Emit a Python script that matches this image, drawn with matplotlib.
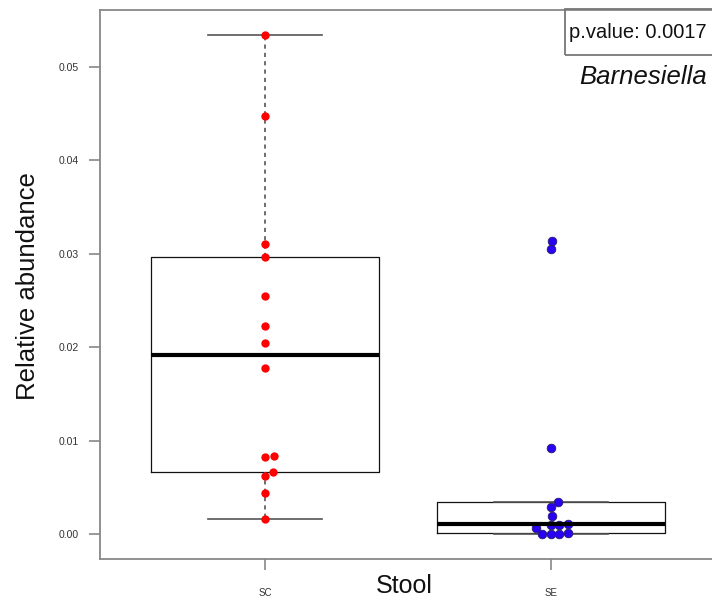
import numpy as np
import matplotlib.pyplot as plt
from matplotlib.patches import Rectangle

plt.rcParams['font.family'] = ['Liberation Sans', 'DejaVu Sans']

groups = ['SC', 'SE']
sc_values = [0.0534, 0.0447, 0.0310, 0.0297, 0.0255, 0.0223, 0.0205,
             0.0178, 0.0084, 0.0082, 0.0066, 0.0062, 0.0044, 0.0016]
se_values = [0.0314, 0.0305, 0.0092, 0.0034, 0.0029, 0.0019, 0.0011,
             0.0010, 0.0010, 0.0006, 0.0001, 0.0000, 0.0000, 0.0000]
point_colors = ['#ff0000', '#2b00f5']
p_value = 0.0017
taxon = 'Barnesiella'


def fivenum(v):
    # Tukey hinges, like R's boxplot.stats
    v = np.sort(np.asarray(v))
    n = len(v)
    n4 = np.floor((n + 3) / 2) / 2
    d = np.array([1, n4, (n + 1) / 2, n + 1 - n4, n]) - 1
    return 0.5 * (v[np.floor(d).astype(int)] + v[np.ceil(d).astype(int)])


def box_stats(v, label):
    v = np.asarray(v)
    lo, q1, med, q3, hi = fivenum(v)
    iqr = q3 - q1
    inside = v[(v >= q1 - 1.5 * iqr) & (v <= q3 + 1.5 * iqr)]
    return dict(med=med, q1=q1, q3=q3, whislo=inside.min(),
                whishi=inside.max(), fliers=[], label=label)


def swarm(ypix, d):
    # beeswarm "swarm" placement, ascending priority, offsets in pixels
    order = np.argsort(ypix, kind='stable')
    xs = np.zeros(len(ypix))
    placed = []
    for i in order:
        pre = [j for j in placed if abs(ypix[i] - ypix[j]) < d]
        if pre:
            pre.sort(key=lambda j: abs(xs[j]))
            offs = [np.sqrt(d * d - (ypix[i] - ypix[j]) ** 2) for j in pre]
            cands = [0.0] + [xs[j] + o for j, o in zip(pre, offs)] + \
                    [xs[j] - o for j, o in zip(pre, offs)]
            good = []
            for c in cands:
                bad = any((ypix[i] - ypix[j]) ** 2 + (c - xs[j]) ** 2 < 0.999 * d * d
                          for j in pre)
                good.append(np.inf if bad else c)
            xs[i] = good[int(np.argmin(np.abs(good)))]
        placed.append(i)
    return xs


W, H = 712, 598
fig = plt.figure(figsize=(W / 100, H / 100), dpi=100)
ax = fig.add_axes([100 / W, 39 / H, 616 / W, 549 / H])
ax.set_xlim(0.42, 2.58)
ax.set_ylim(-0.00268, 0.0561)

stats = [box_stats(sc_values, groups[0]), box_stats(se_values, groups[1])]
ax.bxp(stats, positions=[1, 2], widths=0.8, capwidths=0.4, showfliers=False,
       boxprops=dict(color='#111111', lw=0.9),
       medianprops=dict(color='black', lw=3),
       whiskerprops=dict(color='#555555', lw=1.2, linestyle=(0, (2.5, 2.5))),
       capprops=dict(color='#555555', lw=1.2))

px_per_x = 616 / (2.58 - 0.42)
px_per_y = 549 / (0.0561 + 0.00268)
for k, vals in enumerate([sc_values, se_values]):
    vals = np.asarray(vals)
    offs = swarm(vals * px_per_y, 8.5) / px_per_x
    if k == 0:
        ax.plot(k + 1 + offs, vals, 'o', ms=6, color=point_colors[k], mec='none')
    else:
        ax.plot(k + 1 + offs, vals, 'o', ms=6.2, color=point_colors[k],
                mec='#20206a', mew=0.6)

ax.set_yticks([0.0, 0.01, 0.02, 0.03, 0.04, 0.05])
ax.set_yticklabels(['0.00', '0.01', '0.02', '0.03', '0.04', '0.05'])
ax.set_xticks([1, 2])
ax.set_xticklabels(groups)
ax.tick_params(axis='both', length=8, width=1.2, color='#888888',
               labelsize=7.5, labelcolor='#333333')
ax.tick_params(axis='y', pad=7)
ax.tick_params(axis='x', pad=13, labelsize=7)
for s in ax.spines.values():
    s.set_color('#888888')
    s.set_linewidth(1.3)

fig.text(35 / W, 1 - 286 / H, 'Relative abundance', rotation=90, fontsize=18.5,
         ha='center', va='baseline', rotation_mode='anchor', color='#111111')
fig.text(404 / W, 1 - 593 / H, 'Stool', fontsize=18, ha='center', va='baseline',
         color='#111111')

fig.add_artist(Rectangle((565 / W, 1 - 55 / H), 160 / W, 46 / H,
                         transform=fig.transFigure, fill=False,
                         ec='#777777', lw=1.3))
fig.text(569 / W, 1 - 38 / H, 'p.value: %s' % p_value, fontsize=14.5,
         ha='left', va='baseline', color='#111111')
fig.text(643 / W, 1 - 84 / H, taxon, fontsize=18.5, style='italic',
         ha='center', va='baseline', color='#111111')

fig.savefig('out.png', dpi=100)
